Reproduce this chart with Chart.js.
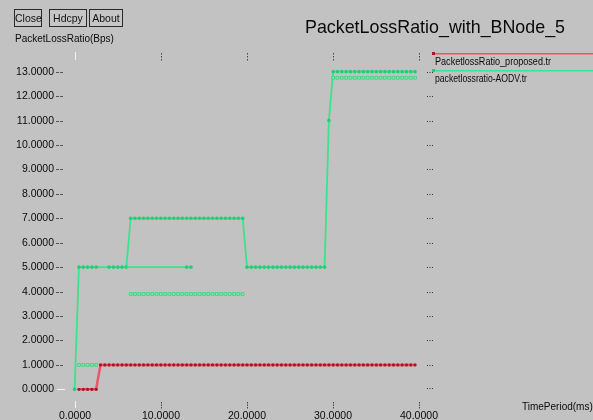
<!DOCTYPE html>
<html>
<head>
<meta charset="utf-8">
<script src="https://cdn.jsdelivr.net/npm/chart.js@4.4.0/dist/chart.umd.min.js"></script>
<style>
  html, body { margin: 0; padding: 0; background: #c2c2c2; }
  #wrap { position: relative; width: 593px; height: 420px; overflow: hidden; }
  canvas { position: absolute; left: 0; top: 0; }
  .btn {
    position: absolute; top: 9px; height: 18px; box-sizing: border-box;
    border: 1px solid #2a2a2a; background: #c6c6c6;
    font: 10.5px "Liberation Sans", Arial, sans-serif; color: #111;
    line-height: 16px; text-align: center;
  }
</style>
</head>
<body>
<div id="wrap">
  <canvas id="chart" width="593" height="420"></canvas>
  <div class="btn" style="left:14px;width:28px">Close</div>
  <div class="btn" style="left:49px;width:38px">Hdcpy</div>
  <div class="btn" style="left:89px;width:34px">About</div>
</div>
<script>
// chart values
const chartTitle = "PacketLossRatio_with_BNode_5";
const yTitle = "PacketLossRatio(Bps)";
const xTitle = "TimePeriod(ms)";
const seriesNames = ["PacketlossRatio_proposed.tr", "packetlossratio-AODV.tr"];

const yTicks = [0, 1, 2, 3, 4, 5, 6, 7, 8, 9, 10, 11, 12, 13];
const xTicks = [0, 10, 20, 30, 40];

const proposedTime = [0.5, 1, 1.5, 2, 2.5, 3, 3.5, 4, 4.5, 5, 5.5, 6, 6.5, 7, 7.5, 8, 8.5, 9, 9.5, 10,
  10.5, 11, 11.5, 12, 12.5, 13, 13.5, 14, 14.5, 15, 15.5, 16, 16.5, 17, 17.5, 18, 18.5, 19, 19.5, 20,
  20.5, 21, 21.5, 22, 22.5, 23, 23.5, 24, 24.5, 25, 25.5, 26, 26.5, 27, 27.5, 28, 28.5, 29, 29.5, 30,
  30.5, 31, 31.5, 32, 32.5, 33, 33.5, 34, 34.5, 35, 35.5, 36, 36.5, 37, 37.5, 38, 38.5, 39, 39.5];
const proposedLoss = [0, 0, 0, 0, 0, 1, 1, 1, 1, 1, 1, 1, 1, 1, 1, 1, 1, 1, 1, 1,
  1, 1, 1, 1, 1, 1, 1, 1, 1, 1, 1, 1, 1, 1, 1, 1, 1, 1, 1, 1,
  1, 1, 1, 1, 1, 1, 1, 1, 1, 1, 1, 1, 1, 1, 1, 1, 1, 1, 1, 1,
  1, 1, 1, 1, 1, 1, 1, 1, 1, 1, 1, 1, 1, 1, 1, 1, 1, 1, 1];

const aodvTime = [0, 0.5, 1, 1.5, 2, 2.5, 4, 4.5, 5, 5.5, 6,
  6.5, 7, 7.5, 8, 8.5, 9, 9.5, 10, 10.5, 11, 11.5, 12, 12.5, 13, 13.5, 14, 14.5, 15, 15.5, 16, 16.5, 17, 17.5, 18, 18.5, 19, 19.5,
  20, 20.5, 21, 21.5, 22, 22.5, 23, 23.5, 24, 24.5, 25, 25.5, 26, 26.5, 27, 27.5, 28, 28.5, 29,
  29.5,
  30, 30.5, 31, 31.5, 32, 32.5, 33, 33.5, 34, 34.5, 35, 35.5, 36, 36.5, 37, 37.5, 38, 38.5, 39, 39.5];
const aodvLoss = [0, 5, 5, 5, 5, 5, 5, 5, 5, 5, 5,
  7, 7, 7, 7, 7, 7, 7, 7, 7, 7, 7, 7, 7, 7, 7, 7, 7, 7, 7, 7, 7, 7, 7, 7, 7, 7, 7,
  5, 5, 5, 5, 5, 5, 5, 5, 5, 5, 5, 5, 5, 5, 5, 5, 5, 5, 5,
  11,
  13, 13, 13, 13, 13, 13, 13, 13, 13, 13, 13, 13, 13, 13, 13, 13, 13, 13, 13, 13];

// extra green traces in the AODV file
const aodvBranchTime = [6, 13, 13.5];
const aodvBranchLoss = [5, 5, 5];
const aodvLowTime = [0.5, 1, 1.5, 2, 2.5];
const aodvLowLoss = [1, 1, 1, 1, 1];
const aodvMidTime = [6.5, 7, 7.5, 8, 8.5, 9, 9.5, 10, 10.5, 11, 11.5, 12, 12.5, 13, 13.5, 14,
  14.5, 15, 15.5, 16, 16.5, 17, 17.5, 18, 18.5, 19, 19.5];
const aodvMidLoss = [3.9, 3.9, 3.9, 3.9, 3.9, 3.9, 3.9, 3.9, 3.9, 3.9, 3.9, 3.9, 3.9, 3.9, 3.9, 3.9,
  3.9, 3.9, 3.9, 3.9, 3.9, 3.9, 3.9, 3.9, 3.9, 3.9, 3.9];
const aodvHighTime = [30, 30.5, 31, 31.5, 32, 32.5, 33, 33.5, 34, 34.5, 35, 35.5, 36, 36.5, 37, 37.5, 38, 38.5, 39, 39.5];
const aodvHighLoss = [12.75, 12.75, 12.75, 12.75, 12.75, 12.75, 12.75, 12.75, 12.75, 12.75,
  12.75, 12.75, 12.75, 12.75, 12.75, 12.75, 12.75, 12.75, 12.75, 12.75];

const RED_LINE = "rgb(238,84,104)";
const RED_DOT = "rgb(170,22,38)";
const GREEN = "rgb(58,228,140)";
const GREEN_DOT = "rgb(36,206,118)";
const GREEN_SHADOW = "rgb(120,222,164)";

function pts(xs, ys) {
  return xs.map((x, i) => ({ x: x, y: ys[i] }));
}

function shadowSet(xs, ys) {
  return {
    data: pts(xs, ys),
    borderColor: GREEN_SHADOW,
    borderWidth: 3.5,
    pointStyle: "rect",
    pointRadius: 1.9,
    pointBorderWidth: 1,
    pointBorderColor: "rgb(70,210,135)",
    pointBackgroundColor: "rgb(165,220,188)"
  };
}

const FONT = '"Liberation Sans", Arial, sans-serif';

function fitText(ctx, text, x, y, width) {
  const w = ctx.measureText(text).width;
  ctx.save();
  ctx.translate(x, y);
  ctx.scale(width / w, 1);
  ctx.fillText(text, 0, 0);
  ctx.restore();
}

const xgraphFrame = {
  id: "xgraphFrame",
  afterDraw(chart) {
    const ctx = chart.ctx;
    const xs = chart.scales.x, ys = chart.scales.y;
    ctx.save();
    ctx.fillStyle = "#0a0a0a";

    // title
    ctx.font = "19px " + FONT;
    ctx.textBaseline = "alphabetic";
    ctx.textAlign = "left";
    fitText(ctx, chartTitle, 305, 33, 260);

    // axis titles
    ctx.font = "10px " + FONT;
    ctx.fillText(yTitle, 15, 42);
    ctx.fillText(xTitle, 522, 410);

    // y ticks
    ctx.font = "10.5px " + FONT;
    ctx.textAlign = "right";
    ctx.textBaseline = "middle";
    yTicks.forEach(v => {
      const py = Math.round(ys.getPixelForValue(v));
      ctx.fillStyle = "#0a0a0a";
      ctx.fillText(v.toFixed(4), 54, py + 0.5);
      if (v === 0) {
        ctx.fillStyle = "#f4f4f4";
        ctx.fillRect(57, py, 8, 1);
      } else {
        ctx.fillStyle = "#555";
        ctx.fillRect(56, py, 3, 1);
        ctx.fillRect(60, py, 3, 1);
        ctx.fillStyle = "#333";
        [427, 429.5, 432].forEach(dx => ctx.fillRect(dx, py, 1, 1));
      }
    });
    ctx.fillStyle = "#333";
    [427, 429.5, 432].forEach(dx => ctx.fillRect(dx, Math.round(ys.getPixelForValue(0)) - 1, 1, 1));

    // x ticks
    ctx.textAlign = "center";
    ctx.textBaseline = "top";
    xTicks.forEach(v => {
      const px = Math.round(xs.getPixelForValue(v));
      ctx.fillStyle = "#0a0a0a";
      ctx.fillText(v.toFixed(4), px, 411);
      if (v === 0) {
        ctx.fillStyle = "#f4f4f4";
        ctx.fillRect(px, 52, 1, 8);
        ctx.fillRect(px, 401, 1, 7);
      } else {
        ctx.fillStyle = "#444";
        [53, 56, 59].forEach(dy => ctx.fillRect(px, dy, 1, 1.5));
        [402, 404.5, 407].forEach(dy => ctx.fillRect(px, dy, 1, 1.5));
      }
    });

    // legend
    ctx.textAlign = "left";
    ctx.textBaseline = "middle";
    ctx.fillStyle = RED_LINE;
    ctx.fillRect(433, 53, 160, 1.5);
    ctx.fillStyle = RED_DOT;
    ctx.fillRect(432, 52, 3, 3);
    ctx.fillStyle = GREEN;
    ctx.fillRect(433, 70, 160, 1.5);
    ctx.fillStyle = GREEN_DOT;
    ctx.fillRect(432, 69, 3, 3);
    ctx.fillStyle = "#0a0a0a";
    ctx.font = "10.5px " + FONT;
    fitText(ctx, seriesNames[0], 435, 62.5, 116);
    fitText(ctx, seriesNames[1], 435, 79, 92);

    ctx.restore();
  }
};

new Chart(document.getElementById("chart"), {
  type: "line",
  data: {
    datasets: [
      shadowSet(aodvLowTime, aodvLowLoss),
      shadowSet(aodvMidTime, aodvMidLoss),
      shadowSet(aodvHighTime, aodvHighLoss),
      {
        label: seriesNames[1] + " branch",
        data: pts(aodvBranchTime, aodvBranchLoss),
        borderColor: GREEN,
        borderWidth: 1.6,
        pointRadius: [0, 1.8, 1.8],
        pointBorderWidth: 0,
        pointBackgroundColor: GREEN_DOT
      },
      {
        label: seriesNames[1],
        data: pts(aodvTime, aodvLoss),
        borderColor: GREEN,
        borderWidth: 1.8,
        pointRadius: 1.8,
        pointBorderWidth: 0,
        pointBackgroundColor: GREEN_DOT
      },
      {
        label: seriesNames[0],
        data: pts(proposedTime, proposedLoss),
        borderColor: RED_LINE,
        borderWidth: 2.5,
        pointRadius: 1.6,
        pointBorderWidth: 0,
        pointBackgroundColor: RED_DOT
      }
    ]
  },
  options: {
    responsive: false,
    animation: false,
    layout: { padding: { left: 66, top: 57, right: 165, bottom: 16 } },
    elements: { line: { tension: 0 } },
    scales: {
      x: { type: "linear", min: -1, max: 41, display: false },
      y: { type: "linear", min: -0.6, max: 13.6, display: false }
    },
    plugins: {
      legend: { display: false },
      tooltip: { enabled: false }
    }
  },
  plugins: [xgraphFrame]
});
</script>
</body>
</html>
